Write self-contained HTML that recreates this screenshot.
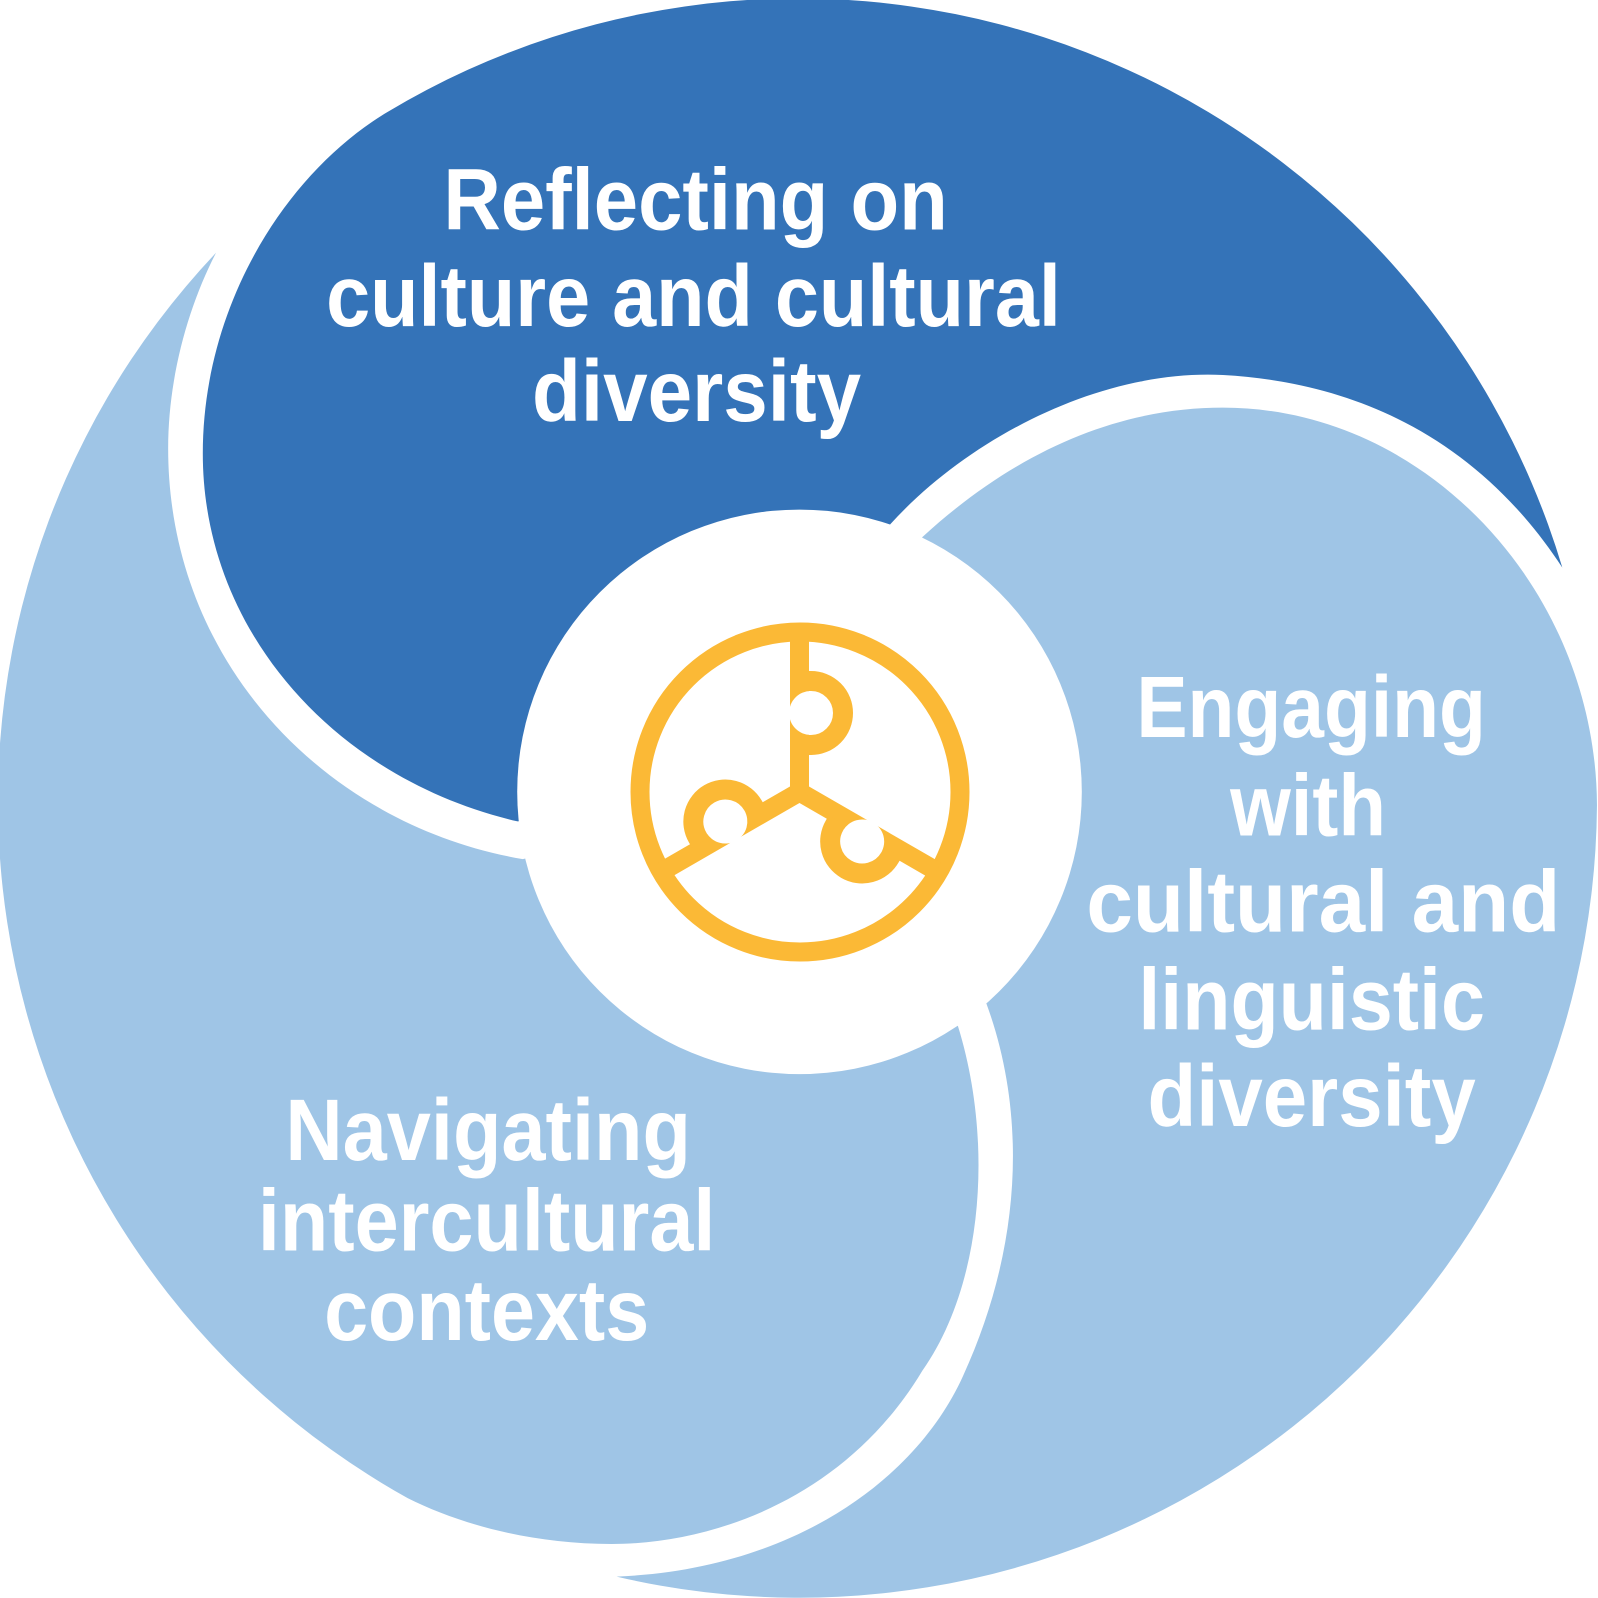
<!DOCTYPE html>
<html><head><meta charset="utf-8"><style>
html,body{margin:0;padding:0;background:#fff;}
svg{display:block;}
text{font-family:"Liberation Sans",sans-serif;font-weight:bold;fill:#fff;font-size:86px;}
</style></head><body>
<svg width="1598" height="1598" viewBox="0 0 1568 1568" xmlns="http://www.w3.org/2000/svg">
<rect width="1568" height="1568" fill="#fff"/>
<path fill="#9fc5e6" d="M212,248 C185,300 165,370 165,440 C165,650 320,810 513,843 L784,777 L940,1007 C975,1120 965,1260 905,1345 C830,1470 700,1515 600,1515 C520,1515 450,1495 400,1470 A783 783 0 0 1 212,248 Z"/>
<path fill="#9fc5e6" d="M905,527 C1000,440 1100,400 1200,400 C1400,400 1566,580 1567,790 A783 783 0 0 1 605,1547 C780,1540 900,1450 945,1350 C1000,1230 1010,1100 968,985 L784,777 Z"/>
<path fill="#3473b8" d="M380,110 A783 783 0 0 1 1533,557 C1450,430 1330,375 1200,368 C1080,362 950,430 873,515 L784,777 L508,806 C330,765 199,620 199,445 C199,300 280,170 380,110 Z"/>
<circle cx="784.5" cy="777" r="277" fill="#fff"/>
<g transform="scale(0.98123)" fill="none" stroke="#fbb936" stroke-width="19">
  <circle cx="800" cy="792" r="160"/>
  <g id="arm">
    <line x1="799.5" y1="634" x2="799.5" y2="797"/>
    <circle cx="811" cy="713" r="22" fill="#fff" stroke="none"/>
    <path d="M805,681 L811,681 A32 32 0 0 1 811,745 L805,745" stroke-width="20"/>
  </g>
  <use href="#arm" transform="rotate(120 799.5 792)"/>
  <use href="#arm" transform="rotate(240 799.5 792)"/>
</g>
<text x="435" y="225" textLength="495" lengthAdjust="spacingAndGlyphs">Reflecting on</text>
<text x="320" y="320" textLength="721" lengthAdjust="spacingAndGlyphs">culture and cultural</text>
<text x="522" y="413" textLength="323" lengthAdjust="spacingAndGlyphs">diversity</text>
<text x="1115" y="723" textLength="343" lengthAdjust="spacingAndGlyphs">Engaging</text>
<text x="1207" y="820" textLength="153" lengthAdjust="spacingAndGlyphs">with</text>
<text x="1066" y="914" textLength="465" lengthAdjust="spacingAndGlyphs">cultural and</text>
<text x="1117" y="1010" textLength="340" lengthAdjust="spacingAndGlyphs">linguistic</text>
<text x="1126" y="1105" textLength="322" lengthAdjust="spacingAndGlyphs">diversity</text>
<text x="280" y="1138" textLength="398" lengthAdjust="spacingAndGlyphs">Navigating</text>
<text x="253" y="1227" textLength="449" lengthAdjust="spacingAndGlyphs">intercultural</text>
<text x="318" y="1315" textLength="319" lengthAdjust="spacingAndGlyphs">contexts</text>
</svg>
</body></html>
